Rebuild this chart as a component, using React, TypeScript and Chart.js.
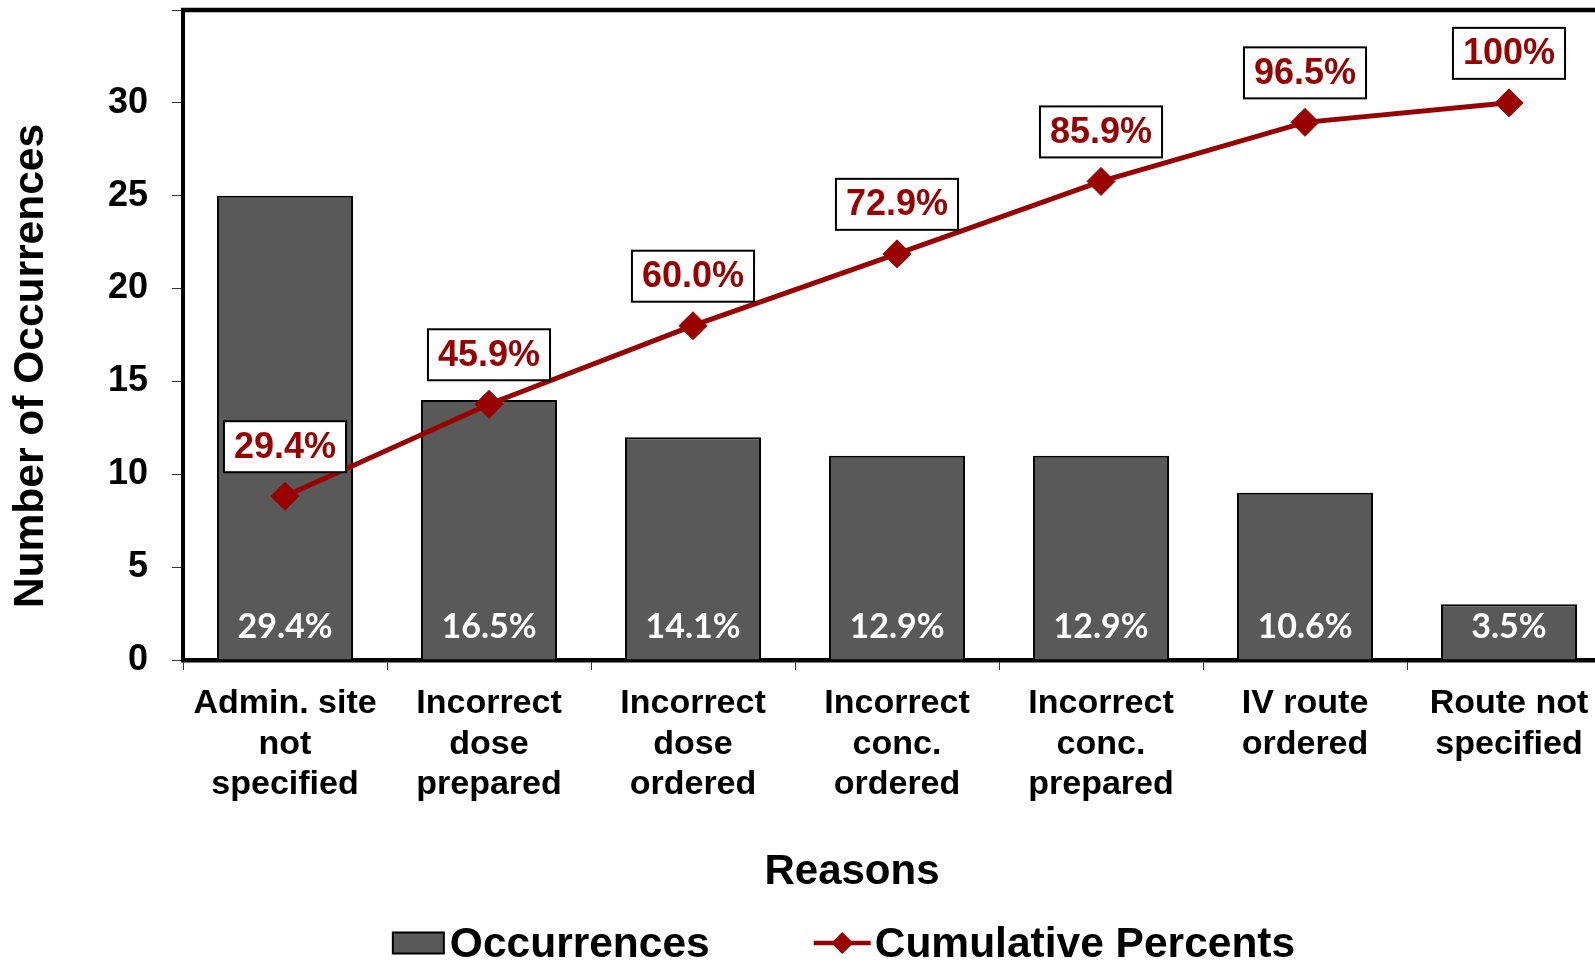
import React, { useEffect, useRef } from "react";
import { Chart, registerables } from "chart.js";

Chart.register(...registerables);

// ---- Data ----
const categories: string[][] = [
  ["Admin. site", "not", "specified"],
  ["Incorrect", "dose", "prepared"],
  ["Incorrect", "dose", "ordered"],
  ["Incorrect", "conc.", "ordered"],
  ["Incorrect", "conc.", "prepared"],
  ["IV route", "ordered"],
  ["Route not", "specified"],
];
const occurrences = [25, 14, 12, 11, 11, 9, 3];
const sharePercents = [29.4, 16.5, 14.1, 12.9, 12.9, 10.6, 3.5];
const cumulativePercents = [29.4, 45.9, 60.0, 72.9, 85.9, 96.5, 100];
const yMax = 35;
const yStep = 5;
const yLabelMax = 30;

const yTitle = "Number of Occurrences";
const xTitle = "Reasons";
const barName = "Occurrences";
const lineName = "Cumulative Percents";

const BAR_COLOR = "#595959";
const LINE_COLOR = "#990000";
const FONT = "'Liberation Sans', Arial, sans-serif";

const fmtCum = (v: number) => (v === 100 ? "100%" : v.toFixed(1) + "%");

const overlayPlugin = {
  id: "overlay",
  afterDatasetsDraw(chart: any) {
    const ctx: CanvasRenderingContext2D = chart.ctx;
    const { left, right, top } = chart.chartArea;
    ctx.save();
    // top border of plot area
    ctx.strokeStyle = "#000";
    ctx.lineWidth = 4.5;
    ctx.beginPath();
    ctx.moveTo(left - 2, top);
    ctx.lineTo(right, top);
    ctx.stroke();

    // bar share labels
    const barMeta = chart.getDatasetMeta(0);
    const zeroY = chart.scales.y.getPixelForValue(0);
    ctx.fillStyle = "#ffffff";
    ctx.font = "bold 34px Lato, 'Open Sans', sans-serif";
    ctx.textAlign = "center";
    ctx.textBaseline = "middle";
    barMeta.data.forEach((el: any, i: number) => {
      ctx.fillText(sharePercents[i].toFixed(1) + "%", el.x, zeroY - 33);
    });

    // cumulative labels in boxes
    const lineMeta = chart.getDatasetMeta(1);
    ctx.font = `bold 36px ${FONT}`;
    lineMeta.data.forEach((el: any, i: number) => {
      const txt = fmtCum(cumulativePercents[i]);
      const w = ctx.measureText(txt).width + 20;
      const h = 51;
      const bx = el.x - w / 2;
      const by = el.y - 24 - h;
      ctx.fillStyle = "#ffffff";
      ctx.fillRect(bx, by, w, h);
      ctx.strokeStyle = "#000";
      ctx.lineWidth = 2;
      ctx.strokeRect(bx, by, w, h);
      ctx.fillStyle = LINE_COLOR;
      ctx.fillText(txt, el.x, by + h / 2 + 1);
    });
    ctx.restore();
  },
  afterDraw(chart: any) {
    const ctx: CanvasRenderingContext2D = chart.ctx;
    const cx = chart.width / 2;
    ctx.save();
    // y title
    ctx.fillStyle = "#000";
    ctx.font = `bold 42.5px ${FONT}`;
    ctx.textAlign = "center";
    ctx.textBaseline = "middle";
    ctx.translate(31, 366);
    ctx.rotate(-Math.PI / 2);
    ctx.fillText(yTitle, 0, 0);
    ctx.setTransform(1, 0, 0, 1, 0, 0);

    // x title
    ctx.font = `bold 42px ${FONT}`;
    ctx.fillText(xTitle, cx + 4, 872);

    // legend
    ctx.font = `bold 42.5px ${FONT}`;
    const t1 = ctx.measureText(barName).width;
    const t2 = ctx.measureText(lineName).width;
    const boxW = 51, boxH = 21, gap1 = 6, gapItems = 104, lineW = 57, gap2 = 4;
    const total = boxW + gap1 + t1 + gapItems + lineW + gap2 + t2;
    let x = cx - 4 - total / 2;
    const ly = 943;
    ctx.fillStyle = BAR_COLOR;
    ctx.fillRect(x, ly - boxH / 2, boxW, boxH);
    ctx.strokeStyle = "#000";
    ctx.lineWidth = 2;
    ctx.strokeRect(x, ly - boxH / 2, boxW, boxH);
    x += boxW + gap1;
    ctx.fillStyle = "#000";
    ctx.textAlign = "left";
    ctx.fillText(barName, x, ly + 2);
    x += t1 + gapItems;
    ctx.strokeStyle = LINE_COLOR;
    ctx.lineWidth = 4.5;
    ctx.beginPath();
    ctx.moveTo(x, ly);
    ctx.lineTo(x + lineW, ly);
    ctx.stroke();
    const dx = x + lineW / 2;
    ctx.fillStyle = LINE_COLOR;
    ctx.beginPath();
    ctx.moveTo(dx, ly - 11);
    ctx.lineTo(dx + 11, ly);
    ctx.lineTo(dx, ly + 11);
    ctx.lineTo(dx - 11, ly);
    ctx.closePath();
    ctx.fill();
    x += lineW + gap2;
    ctx.fillStyle = "#000";
    ctx.fillText(lineName, x, ly + 2);
    ctx.restore();
  },
};

export default function App() {
  const ref = useRef<HTMLCanvasElement>(null);

  useEffect(() => {
    const canvas = ref.current!;
    const chart = new Chart(canvas, {
      type: "bar",
      data: {
        labels: categories,
        datasets: [
          {
            type: "bar",
            label: barName,
            data: occurrences,
            backgroundColor: BAR_COLOR,
            borderColor: "#000",
            borderWidth: 2,
            barPercentage: 0.667,
            categoryPercentage: 1,
            yAxisID: "y",
            order: 2,
          },
          {
            type: "line",
            label: lineName,
            data: cumulativePercents,
            borderColor: LINE_COLOR,
            backgroundColor: LINE_COLOR,
            borderWidth: 5,
            pointStyle: "rectRot",
            pointRadius: 14,
            pointBorderWidth: 1,
            pointBackgroundColor: LINE_COLOR,
            pointBorderColor: LINE_COLOR,
            yAxisID: "y1",
            tension: 0,
            order: 1,
          } as any,
        ],
      },
      options: {
        responsive: false,
        animation: false,
        devicePixelRatio: 1,
        layout: { autoPadding: false, padding: { top: 10, right: 85, left: 0, bottom: 0 } },
        plugins: {
          legend: { display: false },
          tooltip: { enabled: false },
          title: { display: false },
        },
        scales: {
          x: {
            type: "category",
            offset: true,
            grid: {
              offset: true,
              drawOnChartArea: false,
              drawTicks: true,
              tickLength: 10,
              color: "#333",
              lineWidth: 1,
            },
            border: { display: true, color: "#000", width: 4.5 },
            ticks: {
              color: "#000",
              font: { family: FONT, size: 34, weight: "bold", lineHeight: 1.18 },
              padding: 14,
              autoSkip: false,
              maxRotation: 0,
              minRotation: 0,
            },
            afterFit: (s: any) => {
              s.height = 302;
              s.paddingLeft = 0;
              s.paddingRight = 0;
            },
          },
          y: {
            type: "linear",
            position: "left",
            min: 0,
            max: yMax,
            grid: {
              drawOnChartArea: false,
              drawTicks: true,
              tickLength: 11,
              color: "#333",
              lineWidth: 1,
            },
            border: { display: true, color: "#000", width: 4 },
            ticks: {
              stepSize: yStep,
              color: "#000",
              font: { family: FONT, size: 36, weight: "bold" },
              padding: 24,
              callback: (v: any) => (Number(v) > yLabelMax ? "" : String(v)),
            },
            afterFit: (s: any) => {
              s.width = 183;
              s.paddingTop = 0;
              s.paddingBottom = 0;
            },
          },
          y1: {
            type: "linear",
            display: false,
            min: 0,
            max: (100 * yMax) / yLabelMax,
          },
        },
      },
      plugins: [overlayPlugin],
    });
    return () => chart.destroy();
  }, []);

  return (
    <div
      style={{
        position: "fixed",
        left: 0,
        top: 0,
        width: "100vw",
        height: "100vh",
        overflow: "hidden",
        background: "#fff",
      }}
    >
      <canvas
        ref={ref}
        width={1696}
        height={962}
        style={{ display: "block", width: "1696px", height: "962px" }}
      />
    </div>
  );
}
